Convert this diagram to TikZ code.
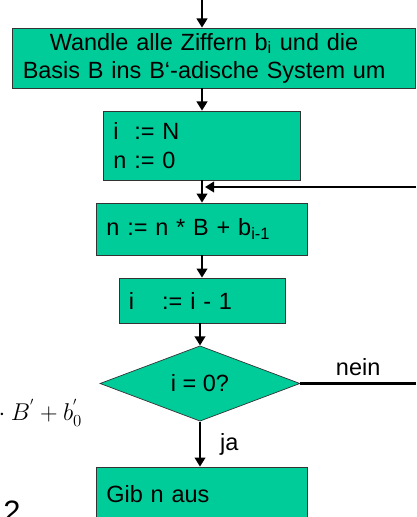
\documentclass[tikz,border=0pt]{standalone}
\usepackage{fontspec}
\setmainfont{Liberation Sans}
\usetikzlibrary{positioning,arrows.meta,shapes.geometric,calc}
\definecolor{FlowGreen}{HTML}{00CC99}
\definecolor{FlowEdge}{HTML}{333333}

\begin{document}
\begin{tikzpicture}[
  x=0.025cm, y=-0.025cm,
  every node/.style={font=\fontsize{16.7}{20}\selectfont},
  flowbox/.style={rectangle, draw=FlowEdge, fill=FlowGreen, line width=0.5pt, inner xsep=0.25cm, inner ysep=0pt, align=left},
  testbox/.style={diamond, draw=FlowEdge, fill=FlowGreen, line width=0.5pt, inner sep=0pt, minimum width=5cm, minimum height=1.875cm},
  arr/.style={-{Triangle[length=6.5pt,width=7.5pt]}, line width=2pt},
  flow/.style={line width=2pt}
]
\clip (0,0) rectangle (416,517);

%% flow chart boxes
\node[flowbox, text width=9.56cm, minimum height=1.5cm] (conv) at (214,58)
  {\hspace*{0.675cm}Wandle alle Ziffern b\textsubscript{i} und die\\
   Basis B ins B`-adische System um};
\node[flowbox, text width=4.43cm, minimum height=1.725cm] (init) at (202,145.5)
  {\rlap{i}\phantom{n} := N\\[1pt] n := 0};
\node[flowbox, text width=4.78cm, minimum height=1.3cm] (accum) at (202,229)
  {n := n * B + b\textsubscript{i-1}};
\node[flowbox, text width=3.65cm, minimum height=1.125cm] (decr) at (202,300.5)
  {\rlap{i}\hspace{0.83cm}:= i - 1};
\node[testbox] (test) at (200,383.5) {i = 0?};
\node[flowbox, text width=4.78cm, minimum height=1.375cm] (out) at (202,494.5)
  {Gib n aus};

%% left over pieces of a formula
\node[anchor=west, inner sep=0pt] (frag) at (-7,413) {${}\cdot B^{'} + b_0^{'}$};
\node[anchor=north, inner sep=0pt, font=\fontsize{22}{24}\selectfont] (fragtwo) at (12,500.5) {2};

%% connectors
\coordinate (entry) at (202,0);
\coordinate (loopin) at (416,187);
\coordinate (loopout) at (416,383.5);
\draw[arr] (entry) -- (entry |- conv.north);
\draw[arr] (conv.south -| init.north) -- (init.north);
\draw[arr] (init) -- (accum);
\draw[arr] (loopin) -- ($(loopin -| accum.north)+(3,0)$);
\draw[arr] (accum) -- (decr);
\draw[arr] (decr.south -| test.north) -- (test.north);
\draw[flow] (test.east) -- (loopout) node[midway, above=1pt] {nein};
\draw[arr] (test.south) -- (test.south |- out.north) node[midway, right=0.35cm] {ja};
\end{tikzpicture}
\end{document}
